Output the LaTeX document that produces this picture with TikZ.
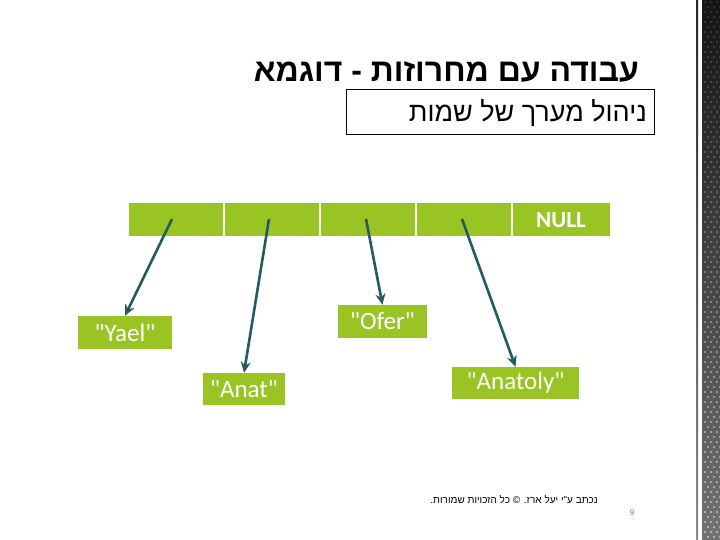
\documentclass[tikz,border=0pt]{standalone}
\usepackage{fontspec}
\setmainfont{Liberation Sans}
\newfontfamily\hebfont[Script=Hebrew]{Liberation Sans}
\newfontfamily\calfont{Carlito}
\TeXXeTstate=1
\usetikzlibrary{arrows.meta}
\definecolor{lime}{HTML}{99C424}
\definecolor{teal}{HTML}{245B61}
\tikzset{
  cell/.style={fill=lime, draw=none, minimum width=94pt, minimum height=33pt, inner sep=0pt, anchor=north west},
  valbox/.style={fill=lime, draw=none, inner sep=0pt, text=white, font=\calfont\fontsize{25}{28}\selectfont},
  ptr/.style={draw=teal, line width=2.6pt, -{Stealth[length=11pt,width=10pt]}},
}
\begin{document}
\begin{tikzpicture}[x=1pt,y=-1pt]
\useasboundingbox (0,0) rectangle (720,540);
\fill[white] (0,0) rectangle (720,540);
% right decorative strip
\shade[top color=black!92, bottom color=black!55] (702,0) rectangle (720,540);
\shade[top color=black!85, bottom color=black!45] (696,0) rectangle (698,540);
\foreach \j in {0,...,107} {
  \pgfmathsetmacro{\op}{0.15+0.45*\j/107}
  \foreach \i in {0,1,2} {
    \fill[white, opacity=\op] ({705+6*\i+3*mod(\j,2)}, {2+5*\j}) circle (1.1);
  }
}
% title
\node[anchor=base east, inner sep=0pt, font=\hebfont\bfseries\fontsize{32}{36}\selectfont] (title) at (639,82) {\beginR עבודה עם מחרוזות - דוגמא\endR};
% subtitle box
\draw[line width=0.8pt] (346,89) rectangle (654,134);
\node[anchor=base east, inner sep=0pt, font=\hebfont\fontsize{27}{30}\selectfont] (sub) at (647,122) {\beginR ניהול מערך של שמות\endR};
% array cells
\node[cell] (c1) at (129,203) {};
\node[cell] (c2) at (225,203) {};
\node[cell] (c3) at (321,203) {};
\node[cell] (c4) at (417,203) {};
\node[cell, minimum width=97pt] (c5) at (513,203) {};
\node[anchor=base east, inner sep=0pt, text=white, font=\calfont\bfseries\fontsize{23}{26}\selectfont] (null) at (586,228) {NULL};
% value boxes
\node[valbox, minimum width=94pt, minimum height=33pt] (yael) at (125,332.5) {"Yael"};
\node[valbox, minimum width=89pt, minimum height=33pt] (ofer) at (382.5,321.5) {"Ofer"};
\node[valbox, minimum width=82pt, minimum height=32pt] (anat) at (244,389) {"Anat"};
\node[valbox, minimum width=127pt, minimum height=32pt] (anatoly) at (515.5,383) {"Anatoly"};
% pointers
\coordinate (p1) at (172,219);
\coordinate (p2) at (269,219);
\coordinate (p3) at (366,219);
\coordinate (p4) at (462,219);
\draw[ptr] (p1) -- (yael.north);
\draw[ptr] (p2) -- (anat.north);
\draw[ptr] (p3) -- (ofer.north);
\draw[ptr] (p4) -- (anatoly.north);
% footer
\node[anchor=base east, inner sep=0pt, font=\hebfont\fontsize{10}{12}\selectfont] (foot) at (598,503) {\beginR נכתב ע"י יעל ארז. © כל הזכויות שמורות.\endR};
\node[anchor=base, inner sep=0pt, text=black!55, font=\fontsize{8}{10}\selectfont] (pg) at (632,515) {9};
\end{tikzpicture}
\end{document}
